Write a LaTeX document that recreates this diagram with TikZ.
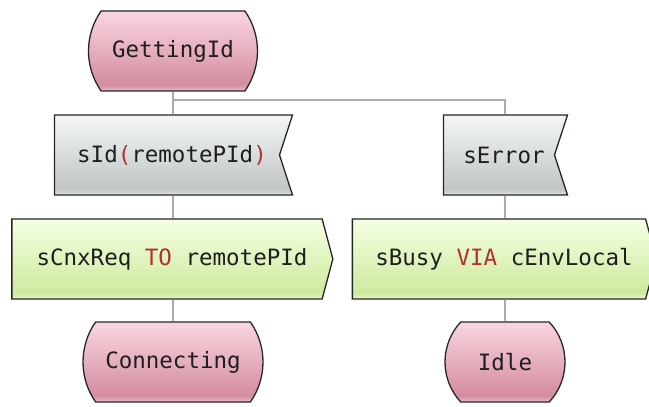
\documentclass[tikz,border=0pt]{standalone}
\usepackage{fontspec}
\setmonofont{DejaVu Sans Mono}
\usetikzlibrary{shapes.misc,shapes.symbols}

\definecolor{edge}{RGB}{38,38,38}
\definecolor{txt}{RGB}{30,30,30}
\definecolor{kwred}{RGB}{178,48,48}
\definecolor{wire}{RGB}{172,172,172}
\definecolor{statetop}{RGB}{250,214,224}
\definecolor{statedark}{RGB}{212,140,160}
\definecolor{statelow}{RGB}{234,186,200}
\definecolor{inputtop}{RGB}{245,247,247}
\definecolor{inputdark}{RGB}{192,197,198}
\definecolor{inputlow}{RGB}{218,223,223}
\definecolor{outputtop}{RGB}{245,255,228}
\definecolor{outputdark}{RGB}{206,234,158}
\definecolor{outputlow}{RGB}{228,247,194}

\pgfdeclareverticalshading{stateshade}{100bp}{color(0bp)=(statelow); color(25bp)=(statelow); color(29bp)=(statedark); color(75bp)=(statetop); color(100bp)=(statetop)}
\pgfdeclareverticalshading{inputshade}{100bp}{color(0bp)=(inputlow); color(25bp)=(inputlow); color(29bp)=(inputdark); color(75bp)=(inputtop); color(100bp)=(inputtop)}
\pgfdeclareverticalshading{outputshade}{100bp}{color(0bp)=(outputlow); color(25bp)=(outputlow); color(29bp)=(outputdark); color(75bp)=(outputtop); color(100bp)=(outputtop)}

\newcommand{\kw}[1]{\textcolor{kwred}{#1}}

\begin{document}
\begin{tikzpicture}[x=1pt,y=1pt,
		sdl/.style={draw=edge,line width=1.3pt,inner sep=0pt,text=txt,
			font=\fontsize{22.5}{26}\selectfont\ttfamily},
		state/.style={sdl,rounded rectangle,rounded rectangle arc length=70,
			shading=stateshade,minimum height=80},
		input/.style={sdl,signal,signal to=nowhere,signal from=east,
			signal pointer angle=144,shading=inputshade,minimum height=80,xshift=-6,
			execute at begin node={\hspace*{10pt}}},
		output/.style={sdl,signal,signal to=east,
			signal pointer angle=150,shading=outputshade,minimum height=80,xshift=-6,
			execute at begin node={\hspace*{10pt}}},
		flow/.style={wire,line width=1.8pt}]
		\useasboundingbox (0,0) rectangle (649,407);
		\clip (0,0) rectangle (649,407);
		% states, inputs and outputs
		\node[state,minimum width=169] (getting) at (173,356) {GettingId};
		\node[input,minimum width=238] (sid) at (173,252) {sId\kw{(}remotePId\kw{)}};
		\node[input,minimum width=124] (serror) at (505,252) {sError};
		\node[output,minimum width=321] (cnx) at (173,148) {sCnxReq \kw{TO} remotePId};
		\node[output,minimum width=304] (busy) at (505,148) {sBusy \kw{VIA} cEnvLocal};
		\node[state,minimum width=180] (connecting) at (173,45) {Connecting};
		\node[state,minimum width=120,rounded rectangle arc length=86] (idle) at (505,45) {Idle};
		% flow lines
		\coordinate (fork) at (173,307);
		\draw[flow] (getting.south) -- (getting.south |- sid.north);
		\draw[flow] (fork) -| (idle |- serror.north);
		\draw[flow] (getting |- sid.south) -- (getting |- cnx.north);
		\draw[flow] (connecting.north) -- (connecting.north |- cnx.south);
		\draw[flow] (idle |- serror.south) -- (idle |- busy.north);
		\draw[flow] (idle.north) -- (idle.north |- busy.south);
\end{tikzpicture}
\end{document}
